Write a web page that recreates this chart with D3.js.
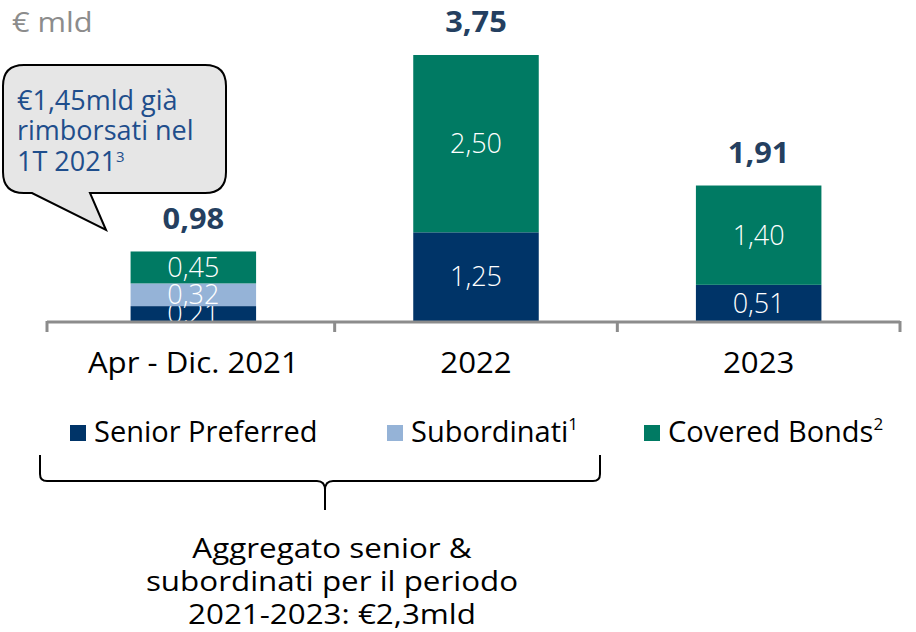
<!DOCTYPE html>
<html>
<head>
<meta charset="utf-8">
<script src="https://cdn.jsdelivr.net/npm/d3@7"></script>
<style>
  html, body { margin: 0; padding: 0; background: #ffffff; }
  svg { display: block; }
  text { font-family: "Open Sans", "DejaVu Sans", sans-serif; }
</style>
</head>
<body>
<svg id="chart" width="916" height="632"></svg>
<script>
// Issuance maturities by year (€ bn)
const categories = ["Apr - Dic. 2021", "2022", "2023"];
const seriesNames = ["Senior Preferred", "Subordinati", "Covered Bonds"];
const seniorPreferred = [0.21, 1.25, 0.51];
const subordinati = [0.32, 0, 0];
const coveredBonds = [0.45, 2.50, 1.40];
const totals = [0.98, 3.75, 1.91];
const legendSup = ["", "1", "2"];

const colors = ["#003468", "#95B3D7", "#007A63"];
const fmt = v => d3.format(".2f")(v).replace(".", ",");

const svg = d3.select("#chart");
const baseY = 321;

// widen glyphs horizontally around an anchor x
function widen(sel, ax, s) {
  sel.attr("transform", function (d, i) {
    const a = typeof ax === "function" ? ax(d, i) : ax;
    return `translate(${a},0) scale(${s},1) translate(${-a},0)`;
  });
}

const x = d3.scaleBand().domain(categories).range([52, 900]).paddingInner(0.556).paddingOuter(0.278);
const y = d3.scaleLinear().domain([0, 3.75]).range([baseY, 55]);
const cx = d => x(d) + x.bandwidth() / 2;

const rows = categories.map((c, i) => ({
  cat: c,
  [seriesNames[0]]: seniorPreferred[i],
  [seriesNames[1]]: subordinati[i],
  [seriesNames[2]]: coveredBonds[i]
}));
const stacked = d3.stack().keys(seriesNames)(rows);

// bars
const layers = svg.append("g").selectAll("g").data(stacked).join("g")
  .attr("fill", (d, i) => colors[i]);
layers.selectAll("rect").data(d => d.filter(p => p[1] - p[0] > 0)).join("rect")
  .attr("x", d => x(d.data.cat))
  .attr("width", x.bandwidth())
  .attr("y", d => y(d[1]))
  .attr("height", d => y(d[0]) - y(d[1]));

// segment value labels
layers.selectAll("text").data(d => d.filter(p => p[1] - p[0] > 0)).join("text")
  .attr("x", d => cx(d.data.cat))
  .attr("y", d => (y(d[0]) + y(d[1])) / 2)
  .attr("dy", "0.36em")
  .attr("text-anchor", "middle")
  .attr("fill", "#ffffff")
  .attr("font-size", 27)
  .attr("font-weight", 300)
  .text(d => fmt(d[1] - d[0]));

// totals
svg.append("g").selectAll("text").data(categories).join("text")
  .attr("x", cx)
  .attr("y", (d, i) => y(totals[i]) - 33)
  .attr("dy", "0.36em")
  .attr("text-anchor", "middle")
  .attr("fill", "#243F60")
  .attr("font-size", 28)
  .attr("font-weight", 700)
  .text((d, i) => fmt(totals[i]))
  .call(widen, cx, 1.1);

// category axis
const step = x.step();
const edges = [x(categories[0]) - x.paddingOuter() * step - 5];
categories.forEach(c => edges.push(x(c) + x.bandwidth() + x.paddingInner() * step / 2));
edges[edges.length - 1] = 900;
const axisG = svg.append("g").attr("stroke", "#8C8C8C").attr("stroke-width", 3);
axisG.append("line").attr("x1", edges[0]).attr("x2", 900).attr("y1", baseY + 1).attr("y2", baseY + 1);
axisG.selectAll(".tk").data(edges).join("line")
  .attr("x1", d => d).attr("x2", d => d)
  .attr("y1", baseY).attr("y2", baseY + 11);

svg.append("g").selectAll("text").data(categories).join("text")
  .attr("x", cx)
  .attr("y", 362)
  .attr("dy", "0.36em")
  .attr("text-anchor", "middle")
  .attr("fill", "#000000")
  .attr("font-size", 30)
  .text(d => d)
  .call(widen, cx, 1.04);

// unit label
svg.append("text").attr("x", 12).attr("y", 22).attr("dy", "0.36em")
  .attr("fill", "#8C8C8C").attr("font-size", 28).text("€ mld")
  .call(widen, 12, 1.1);

// legend
const legendX = [70, 387, 644];
const lg = svg.append("g").selectAll("g").data(seriesNames).join("g")
  .attr("transform", (d, i) => `translate(${legendX[i]},432)`);
lg.append("rect").attr("x", 0).attr("y", -7).attr("width", 16).attr("height", 16)
  .attr("fill", (d, i) => colors[i]);
const lt = lg.append("text").attr("x", 24).attr("y", 0).attr("dy", "0.36em")
  .attr("font-size", 29).attr("fill", "#000");
lt.append("tspan").text(d => d);
lt.append("tspan").attr("font-size", 17).attr("dy", "-0.75em").text((d, i) => legendSup[i]);

// brace under the senior & subordinated legend items
svg.append("path")
  .attr("d", "M40,455 L40,474 Q40,481 47,481 L317,481 Q325,481 325,490 L325,510 M325,490 Q325,481 333,481 L593,481 Q600,481 600,474 L600,455")
  .attr("fill", "none").attr("stroke", "#000").attr("stroke-width", 2);

const noteLines = ["Aggregato senior &", "subordinati per il periodo", "2021-2023: €2,3mld"];
svg.append("g").selectAll("text").data(noteLines).join("text")
  .attr("x", 332).attr("y", (d, i) => 548 + i * 33).attr("dy", "0.36em")
  .attr("text-anchor", "middle").attr("font-size", 28).attr("fill", "#000")
  .text(d => d)
  .call(widen, 332, 1.12);

// callout bubble
svg.append("path")
  .attr("d", "M24,65 L205,65 Q226,65 226,86 L226,172 Q226,193 205,193 L90,193 L106,230 L32,193 L24,193 Q3,193 3,172 L3,86 Q3,65 24,65 Z")
  .attr("fill", "#E6E6E6").attr("stroke", "#000").attr("stroke-width", 2);
const calloutLines = ["€1,45mld già", "rimborsati nel", "1T 2021"];
const ct = svg.append("g").selectAll("text").data(calloutLines).join("text")
  .attr("x", 17).attr("y", (d, i) => 100 + i * 30.5).attr("dy", "0.36em")
  .attr("font-size", 27).attr("fill", "#1F4E8C");
ct.append("tspan").text(d => d);
ct.filter((d, i) => i === 2).append("tspan").attr("font-size", 15).attr("dy", "-0.6em").text("3");
</script>
</body>
</html>
